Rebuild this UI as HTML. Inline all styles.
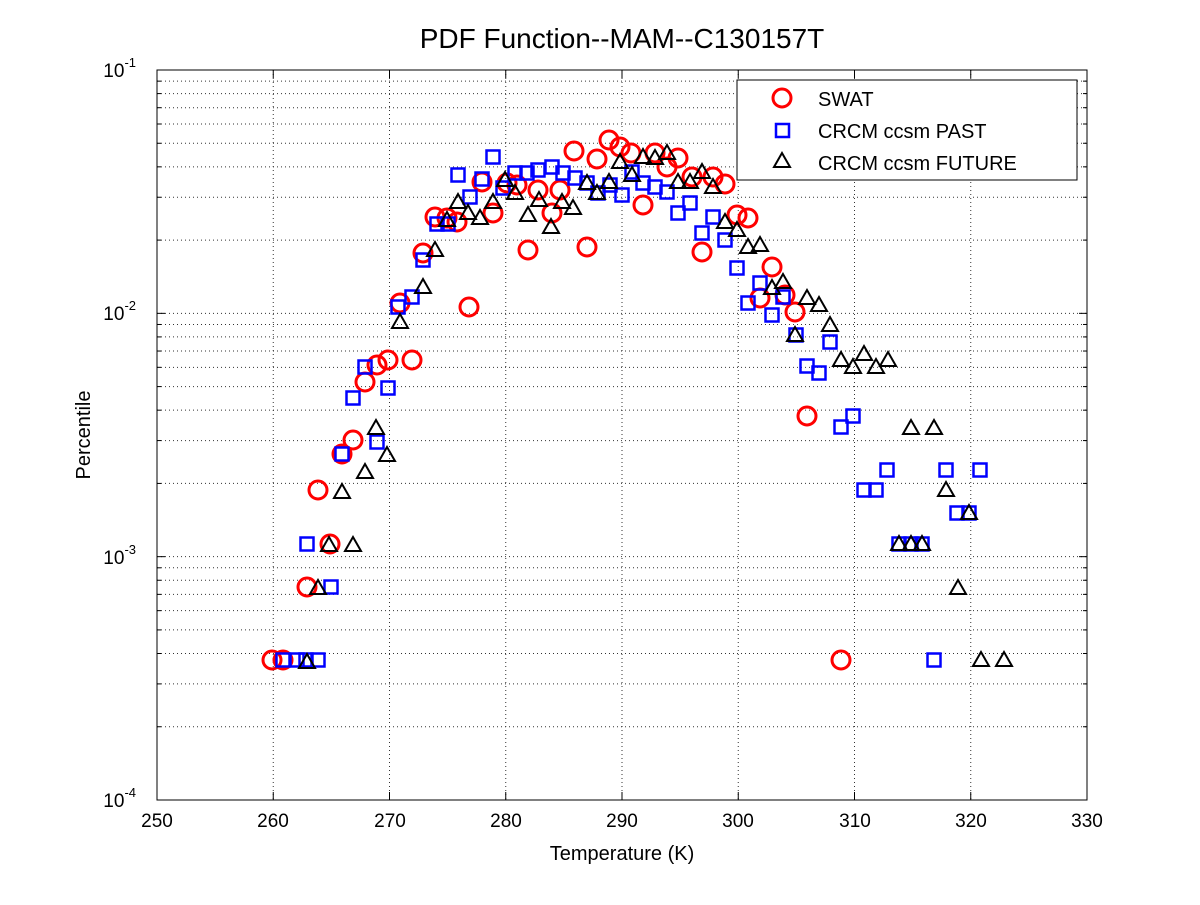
<!DOCTYPE html>
<html><head><meta charset="utf-8"><style>
body{margin:0;background:#fff}
svg text{font-family:"Liberation Sans",sans-serif;fill:#000}
</style></head><body>
<svg id="s" width="1200" height="900" xmlns="http://www.w3.org/2000/svg">
<rect width="1200" height="900" fill="#fff"/>
<g id="grid" stroke="#000" stroke-width="1" stroke-dasharray="1,3" opacity="0.8"></g>
<rect x="157" y="70" width="930" height="730" fill="none" stroke="#000" stroke-width="1"/>
<g id="ticks" stroke="#000" stroke-width="1"></g>
<g id="pts"></g>
<text x="622" y="48" font-size="28" text-anchor="middle">PDF Function--MAM--C130157T</text>
<g font-size="19" text-anchor="middle">
<text x="157" y="827">250</text><text x="273" y="827">260</text><text x="390" y="827">270</text><text x="506" y="827">280</text><text x="622" y="827">290</text><text x="738" y="827">300</text><text x="855" y="827">310</text><text x="971" y="827">320</text><text x="1087" y="827">330</text>
</g>
<text x="622" y="860" font-size="20" text-anchor="middle">Temperature (K)</text>
<text x="90" y="435" font-size="20" text-anchor="middle" transform="rotate(-90 90 435)">Percentile</text>
<g font-size="19" text-anchor="end">
<text x="136" y="77">10<tspan font-size="13" dy="-10">-1</tspan></text>
<text x="136" y="320">10<tspan font-size="13" dy="-10">-2</tspan></text>
<text x="136" y="564">10<tspan font-size="13" dy="-10">-3</tspan></text>
<text x="136" y="807">10<tspan font-size="13" dy="-10">-4</tspan></text>
</g>
<rect x="737" y="80" width="340" height="100" fill="#fff" stroke="#000"/>
<circle cx="782" cy="98" r="9" fill="none" stroke="#f00" stroke-width="3"/>
<rect x="776" y="124" width="13" height="13" fill="none" stroke="#00f" stroke-width="2.5"/>
<polygon points="782,153 774,167 790,167" fill="none" stroke="#000" stroke-width="2"/>
<g font-size="20"><text x="818" y="106">SWAT</text><text x="818" y="138">CRCM ccsm PAST</text><text x="818" y="170">CRCM ccsm FUTURE</text></g>
</svg>
<script>
const NS="http://www.w3.org/2000/svg";
function el(p,t,a){const e=document.createElementNS(NS,t);for(const k in a)e.setAttribute(k,a[k]);p.appendChild(e);return e;}
const g=document.getElementById('grid'),tk=document.getElementById('ticks'),P=document.getElementById('pts');
for(let i=1;i<8;i++){const x=157+i*116.25;el(g,'line',{x1:x,y1:70,x2:x,y2:800});}
for(let i=0;i<=8;i++){const x=157+i*116.25;el(tk,'line',{x1:x,y1:800,x2:x,y2:792});el(tk,'line',{x1:x,y1:70,x2:x,y2:78});}
for(let d=0;d<3;d++)for(let k=1;k<=9;k++){if(d==0&&k==1)continue;const y=800-(d+Math.log10(k))*243.33;
 if(k>1||d>0)el(g,'line',{x1:157,y1:y,x2:1087,y2:y});const L=k==1?8:4;
 el(tk,'line',{x1:157,y1:y,x2:157+L,y2:y});el(tk,'line',{x1:1087,y1:y,x2:1087-L,y2:y});}
const R=[[574,151],[609,140],[620,147],[631,153],[597,159],[655,153],[667,167],[678,158],[692,177],[713,177],[725,184],[643,205],[482,182],[507,183],[517,185],[538,190],[560,190],[552,213],[493,213],[435,217],[447,218],[457,222],[423,253],[528,250],[587,247],[400,303],[469,307],[737,215],[748,218],[702,252],[772,267],[760,298],[785,295],[795,312],[807,416],[841,660],[412,360],[388,360],[377,365],[365,382],[353,440],[342,454],[318,490],[330,544],[307,587],[272,660],[283,660]];
const B=[[493,157],[458,175],[482,179],[515,173],[527,173],[538,170],[552,167],[563,173],[575,178],[587,183],[598,193],[610,185],[622,195],[632,172],[643,183],[655,187],[667,192],[503,188],[470,197],[437,224],[448,224],[423,260],[412,297],[398,307],[678,213],[690,203],[713,217],[702,233],[725,240],[737,268],[760,283],[748,303],[772,315],[783,297],[796,335],[807,366],[819,373],[830,342],[841,427],[853,416],[864,490],[876,490],[887,470],[899,544],[911,544],[922,544],[946,470],[957,513],[969,513],[980,470],[934,660],[365,367],[353,398],[388,388],[377,442],[342,454],[307,544],[331,587],[283,660],[297,660],[318,660],[306,660]];
const T=[[400,322],[423,287],[435,250],[447,220],[458,202],[468,213],[480,218],[493,202],[505,180],[515,193],[528,215],[539,200],[551,227],[562,202],[573,208],[587,183],[597,193],[609,182],[620,162],[632,175],[643,157],[655,158],[667,153],[678,182],[690,182],[702,172],[713,187],[725,222],[737,230],[748,247],[760,245],[772,288],[783,282],[795,335],[807,298],[819,305],[830,325],[841,360],[853,367],[864,354],[876,367],[888,360],[911,428],[934,428],[899,544],[911,544],[922,544],[946,490],[958,588],[969,513],[981,660],[1004,660],[376,428],[387,455],[365,472],[342,492],[329,545],[353,545],[318,588],[307,662]];
R.forEach(([x,y])=>el(P,'circle',{cx:x,cy:y,r:9,fill:'none',stroke:'#f00','stroke-width':3}));
B.forEach(([x,y])=>el(P,'rect',{x:x-6.5,y:y-6.5,width:13,height:13,fill:'none',stroke:'#00f','stroke-width':2.5}));
T.forEach(([x,y])=>el(P,'polygon',{points:`${x},${y-8} ${x-8},${y+6} ${x+8},${y+6}`,fill:'none',stroke:'#000','stroke-width':2}));
</script>
</body></html>
